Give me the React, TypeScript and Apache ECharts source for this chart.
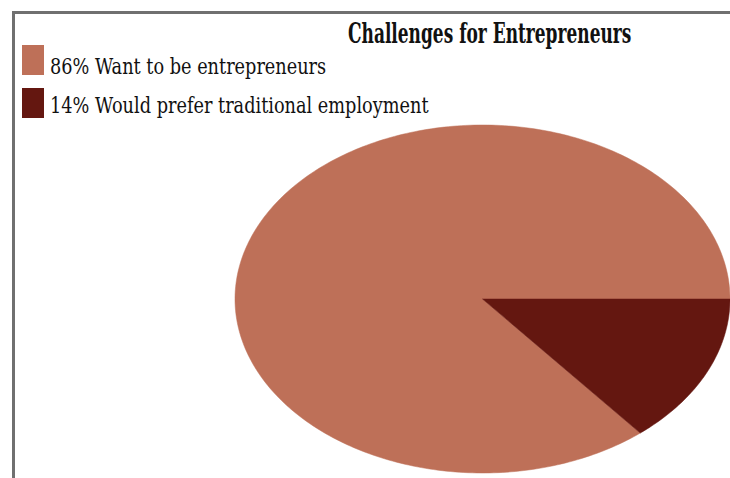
import React, { useEffect, useRef } from "react";
import * as echarts from "echarts";

const titleText = "Challenges for Entrepreneurs";
const categories = ["86% Want to be entrepreneurs", "14% Would prefer traditional employment"];
const values = [86, 14];
const colors = ["#BE7058", "#641710"];
const serif = "DejaVu Serif";

export default function App() {
  const ref = useRef<HTMLDivElement>(null);
  useEffect(() => {
    if (!ref.current) return;
    const chart = echarts.init(ref.current, undefined, { renderer: "svg" });
    const total = values.reduce((a, b) => a + b, 0);
    let acc = 0;
    const sliceData = values.map((v, i) => {
      const start = (acc / total) * 360;
      acc += v;
      const end = (acc / total) * 360;
      return { value: [start, end], name: categories[i] };
    });

    const legendGraphics: any[] = [];
    categories.forEach((c, i) => {
      legendGraphics.push({
        type: "rect",
        shape: { x: 22, y: 45 + i * 43, width: 22, height: 30 },
        style: { fill: colors[i] },
      });
      legendGraphics.push({
        type: "text",
        x: 50,
        y: 66 + i * 39,
        scaleX: 0.77,
        style: {
          text: c,
          fontFamily: serif,
          fontSize: 23,
          fill: "#111",
          verticalAlign: "middle",
          align: "left",
        },
      });
    });

    chart.setOption({
      animation: false,
      backgroundColor: "#ffffff",
      grid: { left: 235, top: 125, width: 504, height: 348 },
      xAxis: { type: "value", min: -1, max: 1, show: false },
      yAxis: { type: "value", min: -1, max: 1, show: false },
      series: [
        {
          type: "custom",
          clip: false,
          silent: true,
          data: sliceData,
          renderItem: (params: any, api: any) => {
            const s = api.value(0);
            const e = api.value(1);
            const pts: number[][] = [api.coord([0, 0])];
            const steps = Math.max(8, Math.ceil((e - s) / 1));
            for (let k = 0; k <= steps; k++) {
              const a = ((s + ((e - s) * k) / steps) * Math.PI) / 180;
              pts.push(api.coord([Math.cos(a), Math.sin(a)]));
            }
            return {
              type: "polygon",
              shape: { points: pts },
              style: { fill: colors[params.dataIndex], stroke: colors[params.dataIndex], lineWidth: 0.5 },
            };
          },
        },
      ],
      graphic: [
        {
          type: "rect",
          shape: { x: 13.5, y: 12.5, width: 900, height: 700 },
          style: { fill: "none", stroke: "#707070", lineWidth: 3 },
          z: 10,
        },
        {
          type: "text",
          x: 348,
          y: 33.5,
          scaleX: 0.63,
          style: {
            text: titleText,
            fontFamily: serif,
            fontWeight: "bold",
            fontSize: 27,
            fill: "#111",
            verticalAlign: "middle",
            align: "left",
          },
        },
        ...legendGraphics,
      ],
    });
    return () => chart.dispose();
  }, []);
  return (
    <div
      ref={ref}
      style={{ position: "absolute", left: 0, top: 0, width: 730, height: 478 }}
    />
  );
}
